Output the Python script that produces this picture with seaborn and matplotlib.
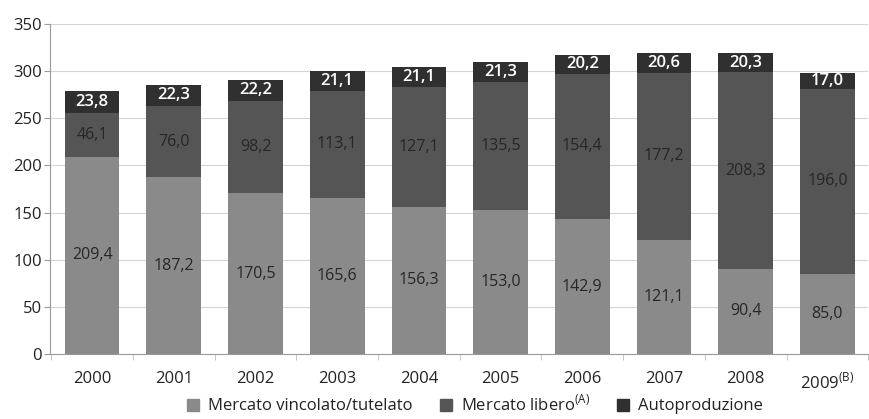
import seaborn as sns
import matplotlib.pyplot as plt
import pandas as pd
from matplotlib.lines import Line2D

# values
years = ['2000', '2001', '2002', '2003', '2004', '2005', '2006', '2007', '2008', '2009$^{\\mathrm{(B)}}$']
vincolato = [209.4, 187.2, 170.5, 165.6, 156.3, 153.0, 142.9, 121.1, 90.4, 85.0]
libero = [46.1, 76.0, 98.2, 113.1, 127.1, 135.5, 154.4, 177.2, 208.3, 196.0]
autoprod = [23.8, 22.3, 22.2, 21.1, 21.1, 21.3, 20.2, 20.6, 20.3, 17.0]
legend_labels = ['Mercato vincolato/tutelato', 'Mercato libero$^{\\mathrm{(A)}}$', 'Autoproduzione']

c_vinc = '#8a8a8a'
c_lib = '#555555'
c_auto = '#303030'

df = pd.DataFrame({'anno': years, 'vincolato': vincolato, 'libero': libero, 'auto': autoprod})
df['v_l'] = df['vincolato'] + df['libero']
df['totale'] = df['v_l'] + df['auto']

sns.set_style('white')
plt.rcParams['font.family'] = ['Open Sans', 'DejaVu Sans']
plt.rcParams['mathtext.fontset'] = 'custom'
plt.rcParams['mathtext.rm'] = 'Open Sans'

fig = plt.figure(figsize=(8.7, 4.19), dpi=100)
ax = fig.add_axes([0.058, 0.155, 0.94, 0.788])

# stacked bars drawn as overlapping cumulative totals
w = 0.67
sns.barplot(data=df, x='anno', y='totale', color=c_auto, width=w, saturation=1, linewidth=0, ax=ax, zorder=2)
sns.barplot(data=df, x='anno', y='v_l', color=c_lib, width=w, saturation=1, linewidth=0, ax=ax, zorder=2)
sns.barplot(data=df, x='anno', y='vincolato', color=c_vinc, width=w, saturation=1, linewidth=0, ax=ax, zorder=2)

def fmt(v):
    return f'{v:.1f}'.replace('.', ',')

for i, row in df.iterrows():
    ax.text(i, row['vincolato'] / 2, fmt(row['vincolato']), ha='center', va='center',
            fontsize=11.5, color='#262626', zorder=3)
    ax.text(i, row['vincolato'] + row['libero'] / 2, fmt(row['libero']), ha='center', va='center',
            fontsize=11.5, color='#262626', zorder=3)
    ax.text(i, row['v_l'] + row['auto'] / 2, fmt(row['auto']), ha='center', va='center',
            fontsize=12, color='white', fontweight='semibold', zorder=3)

ax.set_ylim(0, 350)
ax.set_xlim(-0.51, 9.44)
ax.set_yticks(range(0, 351, 50))
ax.yaxis.grid(True, color='#d4d4d4', lw=0.8, zorder=0)
ax.set_axisbelow(True)
ax.set_xlabel('')
ax.set_ylabel('')

for s in ['top', 'right']:
    ax.spines[s].set_visible(False)
ax.spines['left'].set_color('#9a9a9a')
ax.spines['bottom'].set_color('#9a9a9a')

ax.tick_params(axis='y', left=True, length=4, color='#9a9a9a', labelsize=12, labelcolor='#222222', pad=2)
ax.tick_params(axis='x', which='major', bottom=False, labelsize=12, labelcolor='#222222', pad=9)
ax.set_xticks([x - 0.5 for x in range(11)], minor=True)
ax.tick_params(axis='x', which='minor', bottom=True, length=4, color='#bbbbbb')

handles = [Line2D([], [], marker='s', ls='', color=c, markersize=8) for c in [c_vinc, c_lib, c_auto]]
fig.legend(handles, legend_labels, loc='lower center', bbox_to_anchor=(0.54, -0.025), ncol=3,
           frameon=False, fontsize=12, handletextpad=-0.1, columnspacing=1.0, labelcolor='#222222')

plt.savefig('out.png', dpi=100)
